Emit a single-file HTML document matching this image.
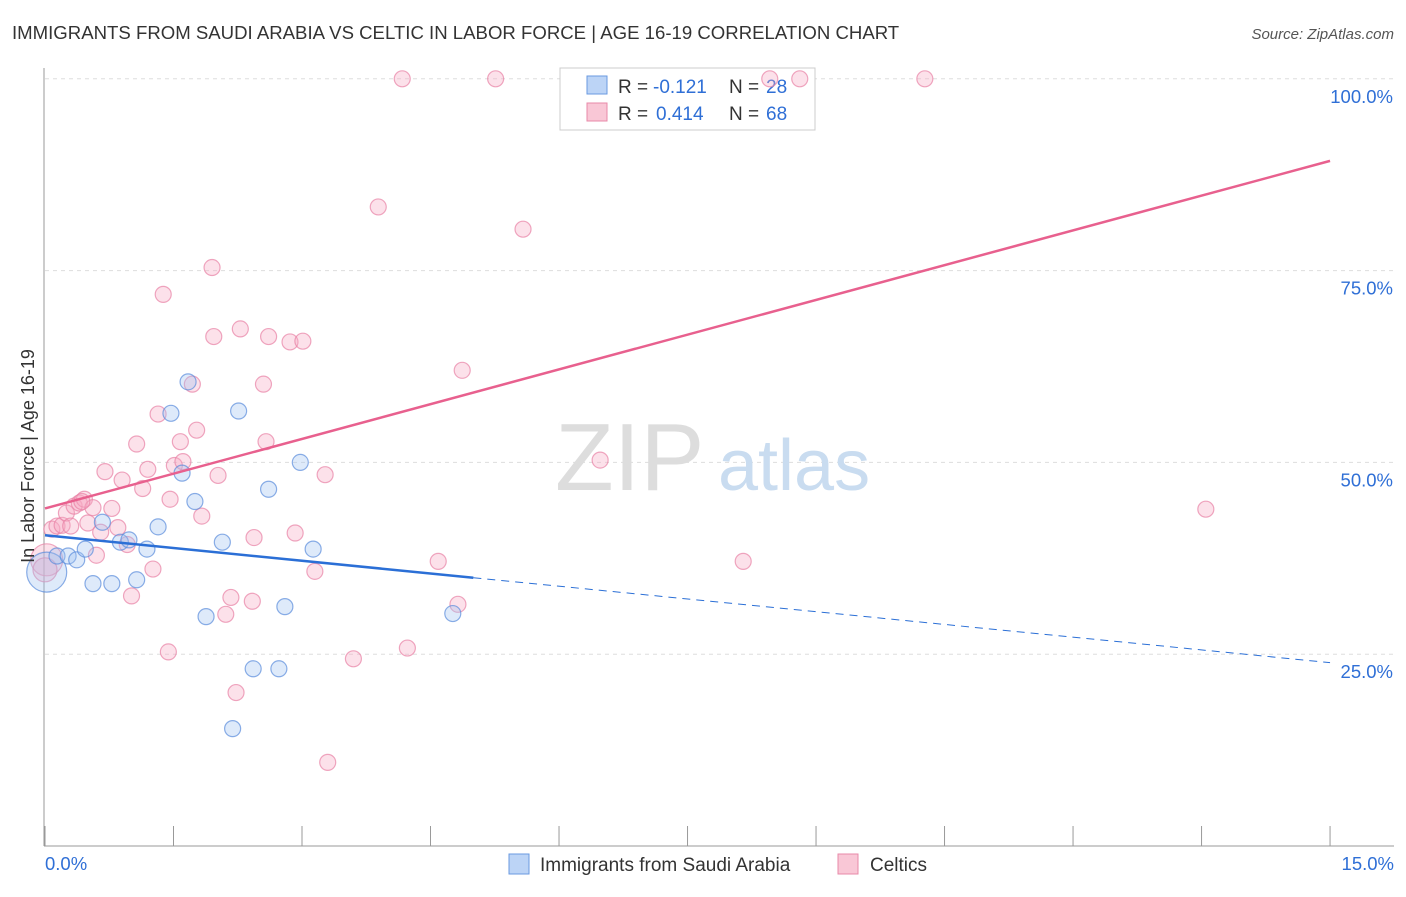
<!DOCTYPE html>
<html><head><meta charset="utf-8"><style>
body{margin:0;background:#fff;font-family:"Liberation Sans",sans-serif}
svg text{font-family:"Liberation Sans",sans-serif}
</style></head><body>
<svg width="1406" height="892" viewBox="0 0 1406 892">
<text x="12" y="39" font-size="18.6" fill="#333">IMMIGRANTS FROM SAUDI ARABIA VS CELTIC IN LABOR FORCE | AGE 16-19 CORRELATION CHART</text>
<text x="1394" y="39" font-size="15" fill="#555" font-style="italic" text-anchor="end">Source: ZipAtlas.com</text>
<g id="grid"></g>
<g><text x="555" y="490" font-size="96" fill="#ddd" font-family="Liberation Serif">ZIP</text><text x="718" y="490" font-size="72" fill="#c9dcf0">atlas</text></g>
<g id="axes"></g>
<g>
<rect x="560" y="68" width="255" height="62" fill="#fff" stroke="#ccc"/>
<rect x="587" y="76" width="20" height="18" fill="#bcd4f6" stroke="#6a9ae0"/>
<rect x="587" y="103" width="20" height="18" fill="#f9c7d6" stroke="#e88aa8"/>
<text x="618" y="93" font-size="19" fill="#333">R =</text><text x="653" y="93" font-size="19" fill="#2f6fd6">-0.121</text>
<text x="729" y="93" font-size="19" fill="#333">N =</text><text x="766" y="93" font-size="19" fill="#2f6fd6">28</text>
<text x="618" y="120" font-size="19" fill="#333">R =</text><text x="656" y="120" font-size="19" fill="#2f6fd6">0.414</text>
<text x="729" y="120" font-size="19" fill="#333">N =</text><text x="766" y="120" font-size="19" fill="#2f6fd6">68</text>
</g>
<g id="pts"></g>
<g id="lines"></g>
<text transform="translate(34,456) rotate(-90)" font-size="18" fill="#333" text-anchor="middle">In Labor Force | Age 16-19</text>
<g>
<rect x="509" y="854" width="20" height="20" fill="#bcd4f6" stroke="#6a9ae0"/>
<text x="540" y="871" font-size="19" fill="#333">Immigrants from Saudi Arabia</text>
<rect x="838" y="854" width="20" height="20" fill="#f9c7d6" stroke="#e88aa8"/>
<text x="870" y="871" font-size="19" fill="#333">Celtics</text>
</g>
</svg>
<script>
const blueX=[0.02,0.14,0.27,0.37,0.47,0.56,0.67,0.78,0.88,0.98,1.07,1.19,1.32,1.47,1.6,1.67,1.75,1.88,2.07,2.26,2.43,2.61,2.73,2.8,2.98,3.13,2.19,4.76];
const blueY=[35.7,37.8,37.8,37.3,38.7,34.2,42.2,34.2,39.6,39.9,34.7,38.7,41.6,56.4,48.6,60.5,44.9,29.9,39.6,56.7,23.1,46.5,23.1,31.2,50.0,38.7,15.3,30.3];
const blueR=[20,8,8,8,8,8,8,8,8,8,8,8,8,8,8,8,8,8,8,8,8,8,8,8,8,8,8,8];
const pinkX=[0.02,0.08,0.14,0.2,0.25,0.3,0.34,0.4,0.46,0.5,0.56,0.6,0.65,0.7,0.78,0.85,0.9,0.96,1.01,1.07,1.14,1.2,1.26,1.32,1.38,1.44,1.46,1.51,1.58,1.61,1.72,1.77,1.83,1.95,1.97,2.02,2.11,2.17,2.23,2.28,2.42,2.44,2.55,2.58,2.61,2.86,2.92,3.01,3.15,3.27,3.3,3.6,3.89,4.17,4.23,4.59,4.82,4.87,5.26,5.58,6.48,8.15,8.46,8.81,10.27,13.55,0.0,0.43];
const pinkY=[37.3,41.3,41.7,41.8,43.4,41.7,44.3,44.7,45.2,42.1,44.1,37.9,40.9,48.8,44,41.5,47.7,39.3,32.6,52.4,46.6,49.1,36.1,56.3,71.9,25.3,45.2,49.6,52.7,50.1,60.2,54.2,43,75.4,66.4,48.3,30.2,32.4,20,67.4,31.9,40.2,60.2,52.7,66.4,65.7,40.8,65.8,35.8,48.4,10.9,24.4,83.3,100,25.8,37.1,31.5,62,100,80.4,50.3,37.1,100,100,100,43.9,36,44.9];
const pinkR=[16,8,8,8,8,8,8,8,8,8,8,8,8,8,8,8,8,8,8,8,8,8,8,8,8,8,8,8,8,8,8,8,8,8,8,8,8,8,8,8,8,8,8,8,8,8,8,8,8,8,8,8,8,8,8,8,8,8,8,8,8,8,8,8,8,8,12,8];
const blueLine=[0,40.5,15,23.9]; const blueSolidEnd=5.0;
const pinkLine=[0,44,15,89.3];
const yTicks=[25,50,75,100];
const xTickLabels=["0.0%","15.0%"];
const ns="http://www.w3.org/2000/svg";
const sx=v=>45+v*85.67, sy=v=>846-v*7.672;
function mk(t,a,p){const e=document.createElementNS(ns,t);for(const k in a)e.setAttribute(k,a[k]);p.appendChild(e);return e;}
const grid=document.getElementById('grid'),axes=document.getElementById('axes');
yTicks.forEach(t=>{const l=mk('line',{x1:45,x2:1394,y1:sy(t),y2:sy(t),stroke:'#ddd','stroke-dasharray':'4,4'},grid);


const tx=mk('text',{x:1393,y:sy(t)+24,'font-size':18.5,fill:'#2f6fd6','text-anchor':'end'},axes);tx.textContent=t.toFixed(1)+'%';

});
mk('line',{x1:44,x2:44,y1:68,y2:846,stroke:'#999'},axes);
mk('line',{x1:44,x2:1394,y1:846,y2:846,stroke:'#999'},axes);
for(let i=0;i<=10;i++){const tk=mk('line',{x1:sx(i*1.5),x2:sx(i*1.5),y1:826,y2:846,stroke:'#999'},axes);

}
const xl0=mk('text',{x:45,y:870,'font-size':18.5,fill:'#2f6fd6'},axes);xl0.textContent=xTickLabels[0];


const xl1=mk('text',{x:1394,y:870,'font-size':18.5,fill:'#2f6fd6','text-anchor':'end'},axes);xl1.textContent=xTickLabels[1];


const pts=document.getElementById('pts');
pinkX.forEach((x,i)=>{const c=mk('circle',{cx:sx(x),cy:sy(pinkY[i]),r:pinkR[i],fill:'rgba(246,170,195,0.35)',stroke:'rgba(232,130,165,0.7)','stroke-width':1.2},pts);

});
blueX.forEach((x,i)=>{const c=mk('circle',{cx:sx(x),cy:sy(blueY[i]),r:blueR[i],fill:'rgba(160,195,240,0.35)',stroke:'rgba(90,140,220,0.7)','stroke-width':1.2},pts);

});
const lines=document.getElementById('lines');
const by=x=>blueLine[1]+(blueLine[3]-blueLine[1])*(x-blueLine[0])/(blueLine[2]-blueLine[0]);
const b1=mk('line',{x1:sx(blueLine[0]),y1:sy(blueLine[1]),x2:sx(blueSolidEnd),y2:sy(by(blueSolidEnd)),stroke:'#2b6fd6','stroke-width':2.5},lines);


const b2=mk('line',{x1:sx(blueSolidEnd),y1:sy(by(blueSolidEnd)),x2:sx(blueLine[2]),y2:sy(blueLine[3]),stroke:'#2b6fd6','stroke-width':1,'stroke-dasharray':'8,6'},lines);


const p1=mk('line',{x1:sx(pinkLine[0]),y1:sy(pinkLine[1]),x2:sx(pinkLine[2]),y2:sy(pinkLine[3]),stroke:'#e8608e','stroke-width':2.5},lines);


</script>
</body></html>
